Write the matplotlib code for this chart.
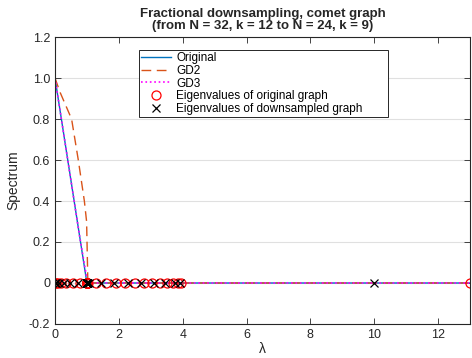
import matplotlib
matplotlib.use("Agg")
import matplotlib.pyplot as plt

plt.rcParams['font.family'] = ['Liberation Sans', 'DejaVu Sans']

# eigenvalues
eig_orig = [0, 0.02, 0.09, 0.2, 0.36, 0.55, 0.78,
            1, 1, 1, 1, 1, 1, 1, 1, 1, 1, 1,
            1.03, 1.3, 1.6, 1.9, 2.2, 2.5, 2.8, 3.05, 3.3, 3.5, 3.7, 3.85, 3.95,
            13.0]
eig_down = [0, 0.03, 0.12, 0.27, 0.47, 0.72,
            1, 1, 1, 1, 1, 1, 1, 1,
            1.05, 1.45, 1.85, 2.3, 2.7, 3.1, 3.45, 3.75, 3.93,
            10.0]

# filter responses
orig_x = [0, 0.2, 0.55, 0.78, 1.0, 1.03, 4.0, 13.0]
orig_y = [1, 0.8, 0.45, 0.22, 0.0, 0.0, 0.0, 0.0]
gd2_x = [0, 0.16, 0.52, 0.73, 0.92, 0.99, 1.03, 4.0, 13.0]
gd2_y = [1, 0.93, 0.8, 0.6, 0.4, 0.3, 0.0, 0.0, 0.0]
gd3_x = [0, 0.2, 0.55, 0.78, 1.0, 1.03, 4.0, 13.0]
gd3_y = [1, 0.8, 0.45, 0.22, 0.02, 0.0, 0.0, 0.0]

fig = plt.figure(figsize=(4.72, 3.58), dpi=100)
ax = fig.add_axes([0.1165, 0.095, 0.8793, 0.8016])

ax.plot(orig_x, orig_y, '-', color='#0072BD', lw=1.0, label='Original')
ax.plot(gd2_x, gd2_y, '--', color='#D95319', lw=1.0, dashes=(7, 4), label='GD2')
ax.plot(gd3_x, gd3_y, ':', color='#FF00FF', lw=1.2, label='GD3')
ax.plot(eig_orig, [0] * len(eig_orig), 'o', mfc='none', mec='#FF0000', ms=6.5, mew=0.9,
        label='Eigenvalues of original graph')
ax.plot(eig_down, [0] * len(eig_down), 'x', color='k', ms=6, mew=0.9,
        label='Eigenvalues of downsampled graph')

ax.set_xlim(0, 13)
ax.set_ylim(-0.2, 1.2)
ax.set_xticks([0, 2, 4, 6, 8, 10, 12])
ax.set_yticks([-0.2, 0, 0.2, 0.4, 0.6, 0.8, 1.0, 1.2])
ax.set_yticklabels(['-0.2', '0', '0.2', '0.4', '0.6', '0.8', '1.0', '1.2'])
ax.yaxis.grid(True, color='#e0e0e0', lw=0.8)
ax.set_axisbelow(True)
ax.tick_params(direction='in', top=True, right=True, labelsize=9, colors='#262626',
               length=4, width=0.6)
for s in ax.spines.values():
    s.set_color('#262626')
    s.set_linewidth(0.8)

ax.set_xlabel('λ', fontsize=10, color='#262626', labelpad=1)
ax.set_ylabel('Spectrum', fontsize=10, color='#262626', labelpad=6)
ax.set_title('Fractional downsampling, comet graph\n(from N = 32, k = 12 to N = 24, k = 9)',
             fontsize=9.5, fontweight='bold', color='#262626', linespacing=1.0, pad=6)

leg = ax.legend(loc='upper left', bbox_to_anchor=(0.2024, 0.7, 0.6, 0.2547), mode='expand',
                fontsize=8.5, frameon=True, fancybox=False, edgecolor='#262626', framealpha=1,
                borderpad=0.2, labelspacing=0.05, handlelength=2.5, handletextpad=0.45,
                borderaxespad=0)
leg.get_frame().set_linewidth(0.7)

fig.savefig('out.png', dpi=100)
